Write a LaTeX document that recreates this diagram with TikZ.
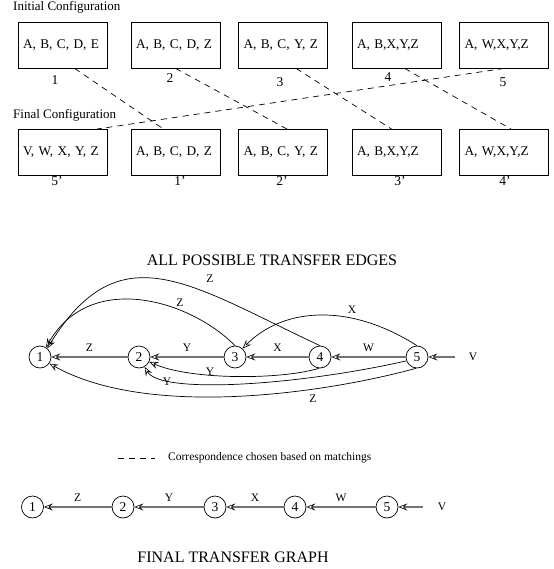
\documentclass[tikz,border=0pt]{standalone}
\usepackage{fontspec}
\setmainfont{Liberation Serif}
\usetikzlibrary{arrows.meta,calc}
\begin{document}
\begin{tikzpicture}[x=1pt,y=-1pt,
  cfg/.style={draw, line width=0.8pt, text width=79pt, minimum height=46pt,
    align=left, inner sep=5pt, font=\fontsize{13.3}{15}\selectfont},
  idx/.style={inner sep=0pt, font=\fontsize{13.5}{15}\selectfont},
  head/.style={inner sep=0pt, anchor=west, font=\fontsize{13}{15}\selectfont},
  title/.style={inner sep=0pt, font=\fontsize{16}{18}\selectfont},
  vert/.style={circle, draw, line width=0.7pt, minimum size=22pt, inner sep=0pt,
    font=\fontsize{13.5}{15}\selectfont},
  elab/.style={inner sep=0pt, font=\fontsize{11.5}{13}\selectfont},
  tip/.style={-{Stealth[open, length=9pt, width=7pt, inset=3.5pt, line width=0.6pt, color=black]}},
  straight/.style={tip, draw=black!55, line width=1.3pt},
  curved/.style={tip, draw=black, line width=0.7pt},
  corr/.style={dash pattern=on 6pt off 5pt, line width=0.7pt}
]
\useasboundingbox (0,0) rectangle (553,569);

% ---- initial configuration ----
\node[head] (hinit) at (13,7) {Initial Configuration};
\node[cfg] (i1) at (62.5,45) {A, B, C, D, E};
\node[cfg] (i2) at (175.5,45) {A, B, C, D, Z};
\node[cfg] (i3) at (283,45) {A, B, C, Y, Z};
\node[cfg] (i4) at (396.5,45) {A, B,X,Y,Z};
\node[cfg] (i5) at (504,45) {A, W,X,Y,Z};
\node[idx] (l1) at (55,80) {1};
\node[idx] (l2) at (170,78) {2};
\node[idx] (l3) at (280,82) {3};
\node[idx] (l4) at (388,77) {4};
\node[idx] (l5) at (503,82) {5};

% ---- final configuration ----
\node[head] (hfin) at (13,115) {Final Configuration};
\node[cfg] (f5) at (62.5,152.5) {V, W, X, Y, Z};
\node[cfg] (f1) at (175.5,152.5) {A, B, C, D, Z};
\node[cfg] (f2) at (283,152.5) {A, B, C, Y, Z};
\node[cfg] (f3) at (396.5,152.5) {A, B,X,Y,Z};
\node[cfg] (f4) at (504,152.5) {A, W,X,Y,Z};
\node[idx] (m5) at (57,181) {5'};
\node[idx] (m1) at (180,181) {1'};
\node[idx] (m2) at (282,181) {2'};
\node[idx] (m3) at (400,181) {3'};
\node[idx] (m4) at (505,181) {4'};

% chosen correspondences
\draw[corr] ($(i1.south west)+(57,0)$) -- ($(f1.north west)+(33,0)$);
\draw[corr] ($(i2.south west)+(45,0)$) -- ($(f2.north west)+(49,0)$);
\draw[corr] ($(i3.south west)+(58,0)$) -- ($(f3.north west)+(40,0)$);
\draw[corr] ($(i4.south west)+(53,0)$) -- ($(f4.north west)+(52,0)$);
\draw[corr] ($(i5.south west)+(45,0)$) -- ($(f5.north west)+(79,0)$);

% ---- all possible transfer edges ----
\node[title] (tall) at (272,260) {ALL POSSIBLE TRANSFER EDGES};
\node[vert] (a1) at (40,357) {1};
\node[vert] (a2) at (139,357) {2};
\node[vert] (a3) at (235,357) {3};
\node[vert] (a4) at (320,357) {4};
\node[vert] (a5) at (417,357) {5};
\node[elab] (av) at (473,357) {V};
\coordinate (avs) at (455,357);

\draw[straight] (avs) -- (a5);
\draw[straight] (a5) -- node[elab, above=5pt] {W} (a4);
\draw[straight] (a4) -- node[elab, above=5pt] {X} (a3);
\draw[straight] (a3) -- node[elab, above=5pt] {Y} (a2);
\draw[straight] (a2) -- node[elab, above=5pt] {Z} (a1);

\draw[curved] (a4.north) .. controls (190,285) and (120,230) .. (a1.50);
\draw[curved] (a3.north) .. controls (190,300) and (90,270) .. (a1.58);
\draw[curved] (a5.north) .. controls (345,300) and (280,310) .. (a3.48);
\draw[curved] (a4.-95) .. controls (280,380) and (190,380) .. (a2.-25);
\draw[curved] (a5.-160) .. controls (300,385) and (160,395) .. (a2.-60);
\draw[curved] (a5.-95) .. controls (330,392) and (150,420) .. (a1.-35);

\node[elab] (zc1) at (210,279) {Z};
\node[elab] (zc2) at (180,303) {Z};
\node[elab] (xc) at (352,310) {X};
\node[elab] (yc1) at (210,372) {Y};
\node[elab] (yc2) at (167,382) {Y};
\node[elab] (zc3) at (313,399) {Z};

% ---- legend ----
\coordinate (lga) at (118,458);
\coordinate (lgb) at (155,458);
\draw[corr] (lga) -- (lgb);
\node[inner sep=0pt, anchor=west, font=\fontsize{11.5}{13}\selectfont] (lgt) at (168,458)
  {Correspondence chosen based on matchings};

% ---- final transfer graph ----
\node[vert] (b1) at (32.5,507) {1};
\node[vert] (b2) at (123,507) {2};
\node[vert] (b3) at (215,507) {3};
\node[vert] (b4) at (295,507) {4};
\node[vert] (b5) at (387,507) {5};
\node[elab] (bv) at (442,507) {V};
\coordinate (bvs) at (423,507);

\draw[straight] (bvs) -- (b5);
\draw[straight] (b5) -- node[elab, above=5pt] {W} (b4);
\draw[straight] (b4) -- node[elab, above=5pt] {X} (b3);
\draw[straight] (b3) -- node[elab, above=5pt] {Y} (b2);
\draw[straight] (b2) -- node[elab, above=5pt] {Z} (b1);

\node[title] (tfin) at (233,557) {FINAL TRANSFER GRAPH};
\end{tikzpicture}
\end{document}
